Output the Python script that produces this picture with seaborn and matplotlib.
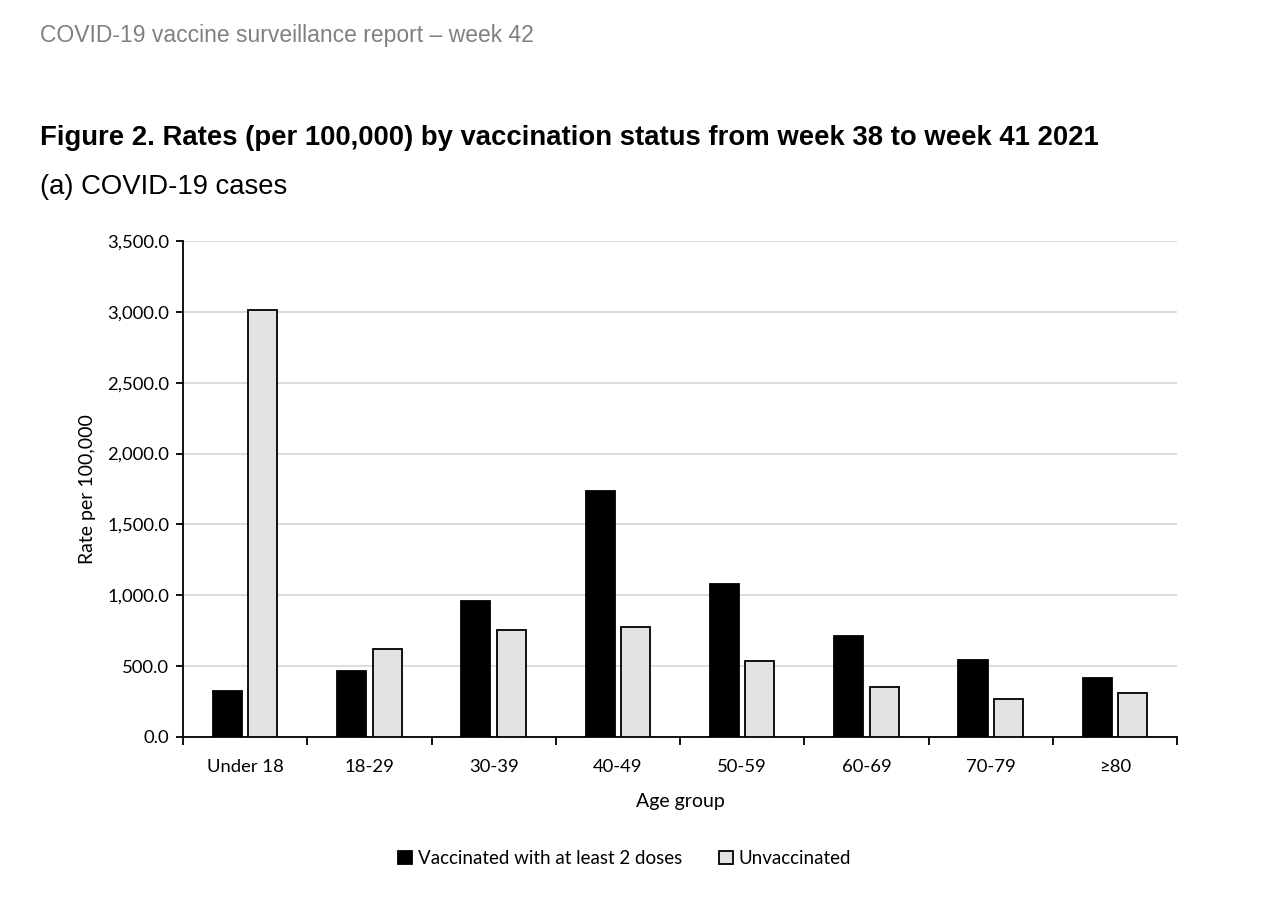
import numpy as np
import pandas as pd
import seaborn as sns
import matplotlib.pyplot as plt
from matplotlib.ticker import FuncFormatter, FixedLocator

sns.set_theme(style="white")
plt.rcParams['font.family'] = ['Lato', 'DejaVu Sans']
plt.rcParams['text.color'] = 'black'
plt.rcParams['axes.labelcolor'] = 'black'

age_groups = ["Under 18", "18-29", "30-39", "40-49", "50-59", "60-69", "70-79", "≥80"]
vaccinated = [325, 466, 960, 1736, 1080, 713, 543, 416]
unvaccinated = [3013, 621, 755, 776, 536, 353, 268, 310]
statuses = ["Vaccinated with at least 2 doses", "Unvaccinated"]

df = pd.DataFrame({
    "Age group": age_groups * 2,
    "Rate": vaccinated + unvaccinated,
    "Status": [statuses[0]] * len(age_groups) + [statuses[1]] * len(age_groups),
})

fig = plt.figure(figsize=(12.8, 8.97), dpi=100)
ax = fig.add_axes([0.143, 0.1784, 0.7766, 0.5529])

sns.barplot(data=df, x="Age group", y="Rate", hue="Status", order=age_groups,
            hue_order=statuses, palette=["black", "#e3e3e3"], edgecolor="black",
            linewidth=1.3, width=0.57, gap=0.18, ax=ax, zorder=3)

ax.set_ylim(0, 3500)
ax.set_xlim(-0.5, len(age_groups) - 0.5)
ax.set_yticks(np.arange(0, 3501, 500))
ax.yaxis.set_major_formatter(FuncFormatter(lambda v, p: f"{v:,.1f}"))
ax.grid(axis="y", color="#d9d9d9", linewidth=1.3, zorder=0)
ax.set_axisbelow(True)

for s in ["top", "right"]:
    ax.spines[s].set_visible(False)
for s in ["left", "bottom"]:
    ax.spines[s].set_color("black")
    ax.spines[s].set_linewidth(1.3)

ax.tick_params(axis="x", which="major", length=0, pad=16, labelsize=13.3, colors="black")
ax.xaxis.set_minor_locator(FixedLocator(np.arange(-0.5, len(age_groups), 1)))
ax.tick_params(axis="x", which="minor", length=6, width=1.3, color="black", bottom=True)
ax.tick_params(axis="y", length=5, width=1.3, color="black", left=True, labelsize=13.3,
               pad=5, labelcolor="black")

ax.set_xlabel("Age group", fontsize=14, labelpad=13)
ax.set_ylabel("Rate per 100,000", fontsize=14, labelpad=8)

ax.legend(loc="center", bbox_to_anchor=(0.488, 0.043), bbox_transform=fig.transFigure,
          ncol=2, frameon=False, fontsize=13.5, handlelength=0.75, handleheight=0.75,
          handletextpad=0.3, columnspacing=2.0)

fig.text(0.031, 0.96, "COVID-19 vaccine surveillance report – week 42", fontsize=16.5,
         color="#808080", family=["Liberation Sans", "DejaVu Sans"], va="center")
fig.text(0.031, 0.846, "Figure 2. Rates (per 100,000) by vaccination status from week 38 to week 41 2021",
         fontsize=19.8, fontweight="bold", family=["Liberation Sans", "DejaVu Sans"], va="center")
fig.text(0.031, 0.792, "(a) COVID-19 cases", fontsize=19.8,
         family=["Liberation Sans", "DejaVu Sans"], va="center")

fig.savefig("out.png", dpi=100)
